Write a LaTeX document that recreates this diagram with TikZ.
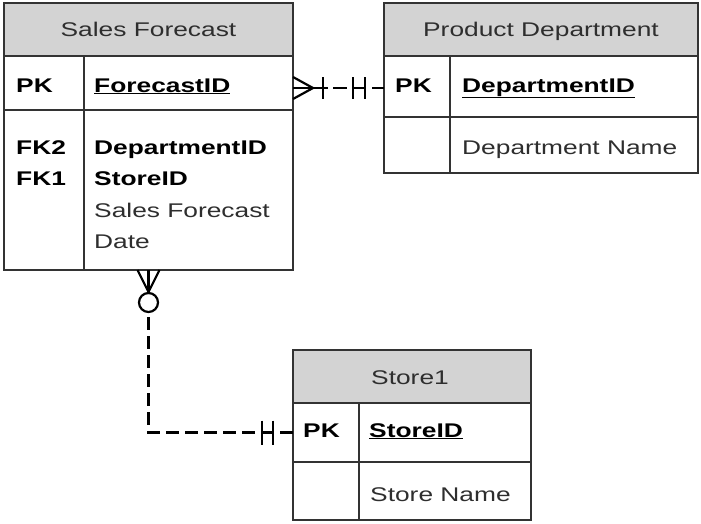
\documentclass[tikz,border=0pt]{standalone}
\usepackage{fontspec}
\setmainfont{Liberation Sans}[FakeStretch=1.33]
\usetikzlibrary{calc}
\definecolor{linec}{HTML}{333333}
\definecolor{hdrgray}{HTML}{D3D3D3}
\definecolor{txtgray}{HTML}{2E2E2E}
\begin{document}
\begin{tikzpicture}[x=1pt,y=-1pt,
  tblbox/.style={draw=linec, line width=1.9pt, rectangle, inner sep=0pt, outer sep=0pt},
  hdr/.style={tblbox, fill=hdrgray},
  tline/.style={draw=linec, line width=1.9pt},
  txt/.style={anchor=base west, inner sep=0pt, text=txtgray, font=\fontsize{19.8}{31.5}\selectfont},
  btxt/.style={txt, text=black, font=\fontsize{19.8}{31.5}\selectfont\bfseries},
  htxt/.style={anchor=base, inner sep=0pt, text=txtgray, font=\fontsize{19.8}{31.5}\selectfont},
  conn/.style={draw=black, line width=2.2pt},
  dconn/.style={conn, dash pattern=on 13pt off 6pt}
]
\useasboundingbox (0,0) rectangle (701,523);

% ---------- Sales Forecast ----------
\node[hdr, minimum width=289pt, minimum height=53pt] (sfh) at (148.5,29.5) {};
\node[tblbox, minimum width=289pt, minimum height=54pt] (sfpk) at (148.5,83) {};
\node[tblbox, minimum width=289pt, minimum height=160pt] (sfb) at (148.5,190) {};
\draw[tline] (84,56) -- (84,270);
\node[htxt] (sft) at (148.5,36) {Sales Forecast};
\node[btxt] (sfpkl) at (16,92) {PK};
\node[btxt] (sfpkv) at (94,92) {\underline{ForecastID}};
\node[btxt] (sffk2) at (16,154) {FK2};
\node[btxt] (sffk1) at (16,185.5) {FK1};
\node[btxt] (sfa1) at (94,154) {DepartmentID};
\node[btxt] (sfa2) at (94,185.5) {StoreID};
\node[txt] (sfa3) at (94,217) {Sales Forecast};
\node[txt] (sfa4) at (94,248.5) {Date};

% ---------- Product Department ----------
\node[hdr, minimum width=314pt, minimum height=53pt] (pdh) at (541,29.5) {};
\node[tblbox, minimum width=314pt, minimum height=61pt] (pdpk) at (541,86.5) {};
\node[tblbox, minimum width=314pt, minimum height=56pt] (pdb) at (541,145) {};
\draw[tline] (450,56) -- (450,173);
\node[htxt] (pdt) at (541,36) {Product Department};
\node[btxt] (pdpkl) at (395,92) {PK};
\node[btxt] (pdpkv) at (462,92) {\underline{DepartmentID}};
\node[txt] (pda1) at (462,154) {Department Name};

% ---------- Store1 ----------
\node[hdr, minimum width=238pt, minimum height=53pt] (sth) at (412,376.5) {};
\node[tblbox, minimum width=238pt, minimum height=59pt] (stpk) at (412,432.5) {};
\node[tblbox, minimum width=238pt, minimum height=58pt] (stb) at (412,491) {};
\draw[tline] (359,403) -- (359,520);
\node[htxt] (stt) at (410,384) {Store1};
\node[btxt] (stpkl) at (303,437) {PK};
\node[btxt] (stpkv) at (369,437) {\underline{StoreID}};
\node[txt] (sta1) at (370,501) {Store Name};

% ---------- Connector: Sales Forecast -> Product Department ----------
\path (sfpk.east) ++(0,5) coordinate (c1a);
\coordinate (c1b) at (c1a -| pdpk.west);
\draw[conn] ($(c1a)+(0,-11)$) -- ($(c1a)+(20,0)$) -- ($(c1a)+(0,11)$);
\draw[conn] (c1a) -- ($(c1a)+(35,0)$);
\draw[conn] ($(c1a)+(30,-11)$) -- ($(c1a)+(30,11)$);
\draw[conn] ($(c1a)+(40,0)$) -- ($(c1a)+(54,0)$);
\draw[conn] ($(c1b)+(-31,-11)$) -- ($(c1b)+(-31,11)$);
\draw[conn] ($(c1b)+(-19,-11)$) -- ($(c1b)+(-19,11)$);
\draw[conn] ($(c1b)+(-31,0)$) -- ($(c1b)+(-19,0)$);
\draw[conn] ($(c1b)+(-12,0)$) -- (c1b);

% ---------- Connector: Sales Forecast -> Store1 ----------
\coordinate (c2a) at (sfb.south);
\coordinate (c2b) at (stpk.west);
\draw[conn] (c2a) -- ($(c2a)+(0,22)$);
\draw[conn] ($(c2a)+(-11,0)$) -- ($(c2a)+(0,22)$) -- ($(c2a)+(11,0)$);
\draw[conn] ($(c2a)+(0,32.5)$) circle[radius=9.5pt];
\draw[dconn] ($(c2a)+(0,47)$) |- ($(c2b)+(-31,0)$);
\draw[conn] ($(c2b)+(-31,-12)$) -- ($(c2b)+(-31,12)$);
\draw[conn] ($(c2b)+(-20,-12)$) -- ($(c2b)+(-20,12)$);
\draw[conn] ($(c2b)+(-31,0)$) -- ($(c2b)+(-20,0)$);
\draw[conn] ($(c2b)+(-13,0)$) -- (c2b);
\end{tikzpicture}
\end{document}
